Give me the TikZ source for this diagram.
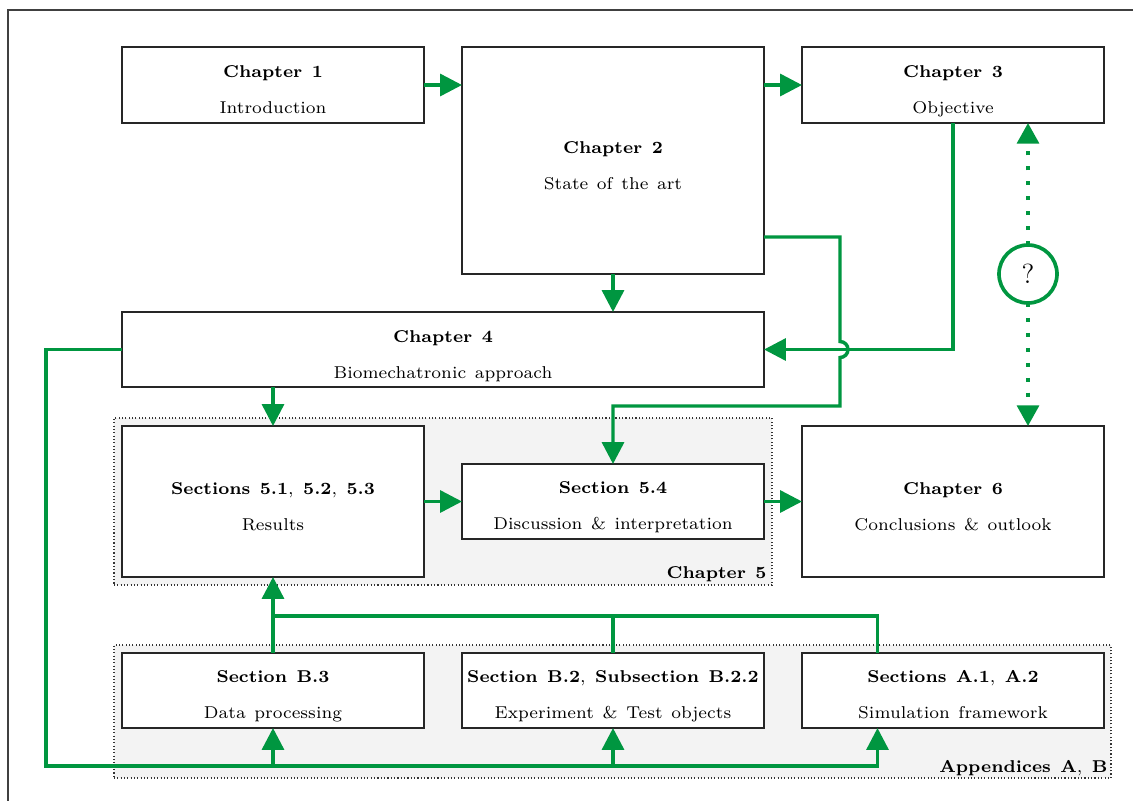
\documentclass[tikz,border=0pt]{standalone}
\usetikzlibrary{arrows.meta,calc}
\definecolor{flowgreen}{RGB}{0,150,64}
\definecolor{groupgray}{RGB}{243,243,243}
\tikzset{
  box/.style 2 args={rectangle, draw=black!85, line width=0.7pt, fill=white,
    minimum width=#1*0.43478pt, minimum height=#2*0.43478pt, inner sep=0pt, outer sep=0pt},
  group/.style 2 args={rectangle, draw=black!80, densely dotted, line width=0.45pt, fill=groupgray,
    minimum width=#1*0.43478pt, minimum height=#2*0.43478pt, inner sep=0pt, outer sep=0pt},
  ttl/.style={anchor=base, inner sep=0pt, text=black, font=\fontsize{7.45}{9}\selectfont,
    execute at begin node={\spaceskip=0.55em\relax}},
  sub/.style={anchor=base, inner sep=0pt, text=black, font=\fontsize{7.45}{9}\selectfont,
    execute at begin node={\spaceskip=0.5em\relax}},
  flow/.style={draw=flowgreen, line width=1.5pt, >={Triangle[length=9.5pt,width=9.5pt]}},
  dotflow/.style={draw=flowgreen, line width=1.7pt, dash pattern=on 1.7pt off 4.8pt,
    >={Triangle[length=9pt,width=9.5pt]}},
  query/.style={circle, draw=flowgreen, line width=1.6pt, fill=white, minimum size=58*0.43478pt,
    inner sep=0pt, outer sep=0pt, font=\fontsize{12}{14}\selectfont},
}
\begin{document}
\begin{tikzpicture}[x=0.43478pt, y=-0.43478pt]
\useasboundingbox (0,0) rectangle (1133,800);
\clip (0,0) rectangle (1133,800);
\fill[white] (0,0) rectangle (1133,800);
\draw[black!75, line width=0.6pt] (8,10) rectangle (1160,830);

% groups
\node[group={658}{167}] (g5) at (443,501.5) {};
\node[group={997}{133}] (gab) at (612.5,711.5) {};
\node[ttl, anchor=base east] (g5l) at (767,578) {\textbf{Chapter 5}};
\node[ttl, anchor=base east] (gabl) at (1108,772) {\textbf{Appendices A}, \textbf{B}};

% chapters
\node[box={302}{76}] (c1) at (273,85) {};
\node[ttl] (c1t) at (273,77.5) {\textbf{Chapter 1}};
\node[sub] (c1s) at (273,113.5) {Introduction};

\node[box={302}{227}] (c2) at (613,160.5) {};
\node[ttl] (c2t) at (613,153) {\textbf{Chapter 2}};
\node[sub] (c2s) at (613,189) {State of the art};

\node[box={302}{76}] (c3) at (953,85) {};
\node[ttl] (c3t) at (953,77.5) {\textbf{Chapter 3}};
\node[sub] (c3s) at (953,113.5) {Objective};

\node[box={642}{75}] (c4) at (443,349.5) {};
\node[ttl] (c4t) at (443,342) {\textbf{Chapter 4}};
\node[sub] (c4s) at (443,378) {Biomechatronic approach};

\node[box={302}{151}] (s51) at (273,501.5) {};
\node[ttl] (s51t) at (273,494) {\textbf{Sections 5.1}, \textbf{5.2}, \textbf{5.3}};
\node[sub] (s51s) at (273,530) {Results};

\node[box={302}{75}] (s54) at (613,501.5) {};
\node[ttl] (s54t) at (613,493.5) {\textbf{Section 5.4}};
\node[sub] (s54s) at (613,529.5) {Discussion \& interpretation};

\node[box={302}{151}] (c6) at (953,501.5) {};
\node[ttl] (c6t) at (953,494) {\textbf{Chapter 6}};
\node[sub] (c6s) at (953,530) {Conclusions \& outlook};

\node[box={302}{75}] (b3) at (273,690.5) {};
\node[ttl] (b3t) at (273,682.5) {\textbf{Section B.3}};
\node[sub] (b3s) at (273,718.5) {Data processing};

\node[box={302}{75}] (b2) at (613,690.5) {};
\node[ttl] (b2t) at (613,682.5) {\textbf{Section B.2}, \textbf{Subsection B.2.2}};
\node[sub] (b2s) at (613,718.5) {Experiment \& Test objects};

\node[box={302}{75}] (sa) at (953,690.5) {};
\node[ttl] (sat) at (953,682.5) {\textbf{Sections A.1}, \textbf{A.2}};
\node[sub] (sas) at (953,718.5) {Simulation framework};

\node[query] (q) at (1028,274) {?};

% helper points
\coordinate (hop) at (840,349.5);
\coordinate (bus) at (273,616);
\coordinate (loop) at (46,766);
\coordinate (ain) at ($(sa.north west)!0.25!(sa.north east)$);
\coordinate (aout) at ($(sa.south west)!0.25!(sa.south east)$);

% connectors
\draw[flow,->] (c1.east) -- (c2.west |- c1.east);
\draw[flow,->] (c2.east |- c3.west) -- (c3.west);
\draw[flow,->] (c2.south) -- (c2.south |- c4.north);
\draw[flow,->] (c3.south) |- (c4.east);
\draw[flow,->] ($(c2.east)+(0,76.5)$) -| ($(hop)+(0,-8)$)
   arc[start angle=90, end angle=-90, radius=3.48pt]
   -- ($(hop)+(0,56.5)$) -| (s54.north);
\draw[flow,->] (s51.north |- c4.south) -- (s51.north);
\draw[flow,->] (s51.east) -- (s54.west);
\draw[flow,->] (s54.east) -- (c6.west);
\draw[dotflow,->] (q.north) -- (q.north |- c3.south);
\draw[dotflow,->] (q.south) -- (q.south |- c6.north);

\draw[flow,->] (b3.north) -- (s51.south);
\draw[flow] (b2.north) |- (bus);
\draw[flow] (ain) |- (bus);

\draw[flow,->] (c4.west) -| (loop) -| (aout);
\draw[flow,->] (b3.south |- loop) -- (b3.south);
\draw[flow,->] (b2.south |- loop) -- (b2.south);
\end{tikzpicture}
\end{document}
